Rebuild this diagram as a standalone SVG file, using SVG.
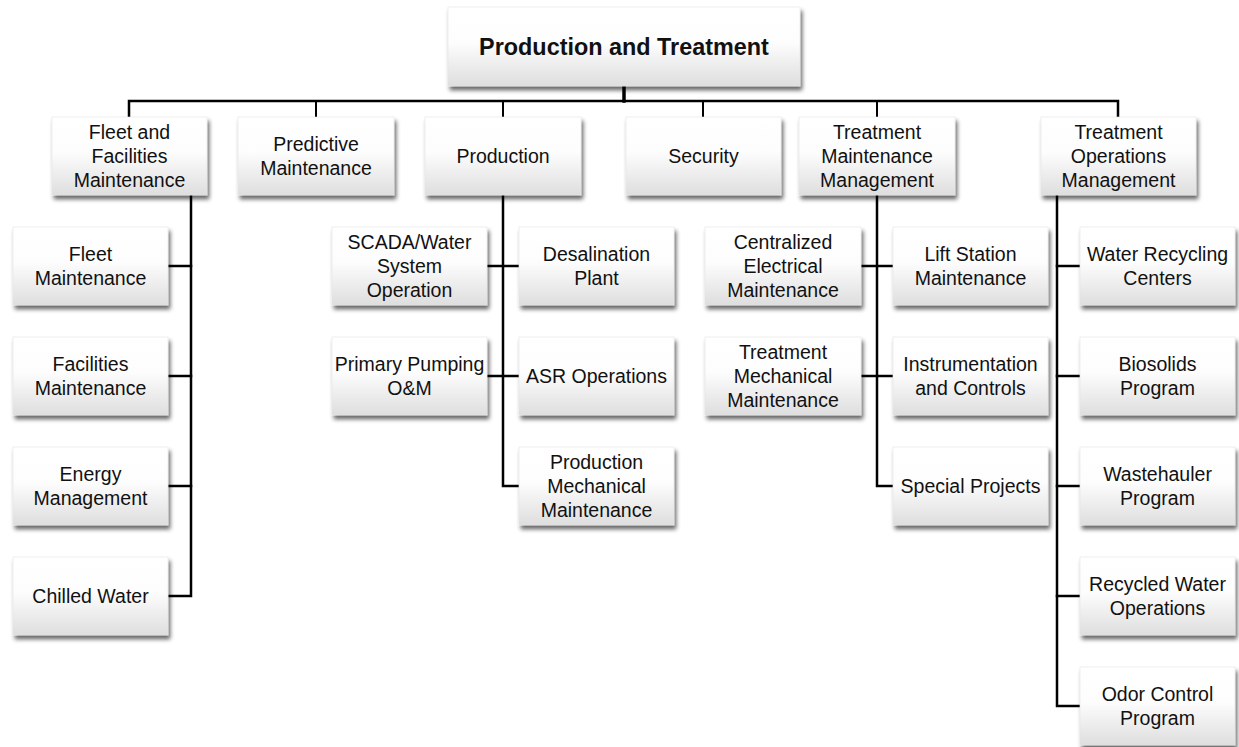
<svg xmlns="http://www.w3.org/2000/svg" width="1239" height="747" viewBox="0 0 1239 747">
<defs>
<linearGradient id="boxfill" x1="0" y1="0" x2="0" y2="1">
<stop offset="0" stop-color="#ffffff"/>
<stop offset="0.45" stop-color="#fdfdfd"/>
<stop offset="1" stop-color="#dedede"/>
</linearGradient>
<filter id="shadow" x="-10%" y="-10%" width="125%" height="135%">
<feGaussianBlur in="SourceAlpha" stdDeviation="2.2"/>
<feOffset dx="2" dy="4" result="b"/>
<feComponentTransfer><feFuncA type="linear" slope="0.6"/></feComponentTransfer>
<feMerge><feMergeNode/><feMergeNode in="SourceGraphic"/></feMerge>
</filter>
<style>
.box{fill:url(#boxfill);stroke:#e4e4e4;stroke-width:0.6;filter:url(#shadow);}
.t{font-family:"Liberation Sans",Arial,sans-serif;font-size:19.5px;fill:#111;text-anchor:middle;}
.tb{font-family:"Liberation Sans",Arial,sans-serif;font-size:23.4px;font-weight:bold;fill:#111;text-anchor:middle;}
.ln{stroke:#000;stroke-width:2.5;fill:none;stroke-linecap:square;}
.lt{stroke:#000;stroke-width:2;fill:none;stroke-linecap:square;}
</style>
</defs>
<rect width="1239" height="747" fill="#ffffff"/>
<g id="connectors">
<line class="ln" x1="624" y1="86" x2="624" y2="101" style="stroke-width:3.5"/>
<polyline class="ln" points="129,117 129,101 1118,101 1118,117"/>
<line class="lt" x1="316" y1="101" x2="316" y2="117"/>
<line class="lt" x1="503" y1="101" x2="503" y2="117"/>
<line class="lt" x1="703" y1="101" x2="703" y2="117"/>
<line class="lt" x1="877" y1="101" x2="877" y2="117"/>
<polyline class="ln" points="191,195 191,596 168,596"/>
<line class="ln" x1="168" y1="266" x2="191" y2="266"/>
<line class="ln" x1="168" y1="376" x2="191" y2="376"/>
<line class="ln" x1="168" y1="486" x2="191" y2="486"/>
<polyline class="ln" points="503,195 503,486 519,486"/>
<line class="ln" x1="487" y1="266" x2="519" y2="266"/>
<line class="ln" x1="487" y1="376" x2="519" y2="376"/>
<polyline class="ln" points="877,195 877,486 893,486"/>
<line class="ln" x1="861" y1="266" x2="893" y2="266"/>
<line class="ln" x1="861" y1="376" x2="893" y2="376"/>
<polyline class="ln" points="1057,195 1057,706 1080,706"/>
<line class="ln" x1="1057" y1="266" x2="1080" y2="266"/>
<line class="ln" x1="1057" y1="376" x2="1080" y2="376"/>
<line class="ln" x1="1057" y1="486" x2="1080" y2="486"/>
<line class="ln" x1="1057" y1="596" x2="1080" y2="596"/>
</g>
<g id="root"><rect class="box" x="448" y="7" width="352" height="79"/><text class="tb" x="624" y="54.8">Production and Treatment</text></g>
<g id="fleet-facilities"><rect class="box" x="52" y="117" width="155" height="78"/><text class="t"><tspan x="129.5" y="139">Fleet and</tspan><tspan x="129.5" y="163">Facilities</tspan><tspan x="129.5" y="187">Maintenance</tspan></text></g>
<g id="predictive"><rect class="box" x="238" y="117" width="156" height="78"/><text class="t"><tspan x="316" y="151">Predictive</tspan><tspan x="316" y="175">Maintenance</tspan></text></g>
<g id="production"><rect class="box" x="425" y="117" width="156" height="78"/><text class="t" x="503" y="163">Production</text></g>
<g id="security"><rect class="box" x="626" y="117" width="155" height="78"/><text class="t" x="703.5" y="163">Security</text></g>
<g id="treatment-maint"><rect class="box" x="799" y="117" width="156" height="78"/><text class="t"><tspan x="877" y="139">Treatment</tspan><tspan x="877" y="163">Maintenance</tspan><tspan x="877" y="187">Management</tspan></text></g>
<g id="treatment-ops"><rect class="box" x="1041" y="117" width="155" height="78"/><text class="t"><tspan x="1118.5" y="139">Treatment</tspan><tspan x="1118.5" y="163">Operations</tspan><tspan x="1118.5" y="187">Management</tspan></text></g>

<g id="fleet-maint"><rect class="box" x="13" y="227" width="155" height="78"/><text class="t"><tspan x="90.5" y="261">Fleet</tspan><tspan x="90.5" y="285">Maintenance</tspan></text></g>
<g id="facilities-maint"><rect class="box" x="13" y="337" width="155" height="78"/><text class="t"><tspan x="90.5" y="371">Facilities</tspan><tspan x="90.5" y="395">Maintenance</tspan></text></g>
<g id="energy-mgmt"><rect class="box" x="13" y="447" width="155" height="78"/><text class="t"><tspan x="90.5" y="481">Energy</tspan><tspan x="90.5" y="505">Management</tspan></text></g>
<g id="chilled-water"><rect class="box" x="13" y="557" width="155" height="78"/><text class="t" x="90.5" y="603">Chilled Water</text></g>

<g id="scada"><rect class="box" x="332" y="227" width="155" height="78"/><text class="t"><tspan x="409.5" y="249">SCADA/Water</tspan><tspan x="409.5" y="273">System</tspan><tspan x="409.5" y="297">Operation</tspan></text></g>
<g id="primary-pumping"><rect class="box" x="332" y="337" width="155" height="78"/><text class="t"><tspan x="409.5" y="371">Primary Pumping</tspan><tspan x="409.5" y="395">O&amp;M</tspan></text></g>
<g id="desalination"><rect class="box" x="519" y="227" width="155" height="78"/><text class="t"><tspan x="596.5" y="261">Desalination</tspan><tspan x="596.5" y="285">Plant</tspan></text></g>
<g id="asr"><rect class="box" x="519" y="337" width="155" height="78"/><text class="t" x="596.5" y="383">ASR Operations</text></g>
<g id="prod-mech"><rect class="box" x="519" y="447" width="155" height="78"/><text class="t"><tspan x="596.5" y="469">Production</tspan><tspan x="596.5" y="493">Mechanical</tspan><tspan x="596.5" y="517">Maintenance</tspan></text></g>

<g id="centralized-elec"><rect class="box" x="705" y="227" width="156" height="78"/><text class="t"><tspan x="783" y="249">Centralized</tspan><tspan x="783" y="273">Electrical</tspan><tspan x="783" y="297">Maintenance</tspan></text></g>
<g id="treatment-mech"><rect class="box" x="705" y="337" width="156" height="78"/><text class="t"><tspan x="783" y="359">Treatment</tspan><tspan x="783" y="383">Mechanical</tspan><tspan x="783" y="407">Maintenance</tspan></text></g>
<g id="lift-station"><rect class="box" x="893" y="227" width="155" height="78"/><text class="t"><tspan x="970.5" y="261">Lift Station</tspan><tspan x="970.5" y="285">Maintenance</tspan></text></g>
<g id="instrumentation"><rect class="box" x="893" y="337" width="155" height="78"/><text class="t"><tspan x="970.5" y="371">Instrumentation</tspan><tspan x="970.5" y="395">and Controls</tspan></text></g>
<g id="special-projects"><rect class="box" x="893" y="447" width="155" height="78"/><text class="t" x="970.5" y="493">Special Projects</text></g>

<g id="water-recycling"><rect class="box" x="1080" y="227" width="155" height="78"/><text class="t"><tspan x="1157.5" y="261">Water Recycling</tspan><tspan x="1157.5" y="285">Centers</tspan></text></g>
<g id="biosolids"><rect class="box" x="1080" y="337" width="155" height="78"/><text class="t"><tspan x="1157.5" y="371">Biosolids</tspan><tspan x="1157.5" y="395">Program</tspan></text></g>
<g id="wastehauler"><rect class="box" x="1080" y="447" width="155" height="78"/><text class="t"><tspan x="1157.5" y="481">Wastehauler</tspan><tspan x="1157.5" y="505">Program</tspan></text></g>
<g id="recycled-water"><rect class="box" x="1080" y="557" width="155" height="78"/><text class="t"><tspan x="1157.5" y="591">Recycled Water</tspan><tspan x="1157.5" y="615">Operations</tspan></text></g>
<g id="odor-control"><rect class="box" x="1080" y="667" width="155" height="78"/><text class="t"><tspan x="1157.5" y="701">Odor Control</tspan><tspan x="1157.5" y="725">Program</tspan></text></g>
</svg>
